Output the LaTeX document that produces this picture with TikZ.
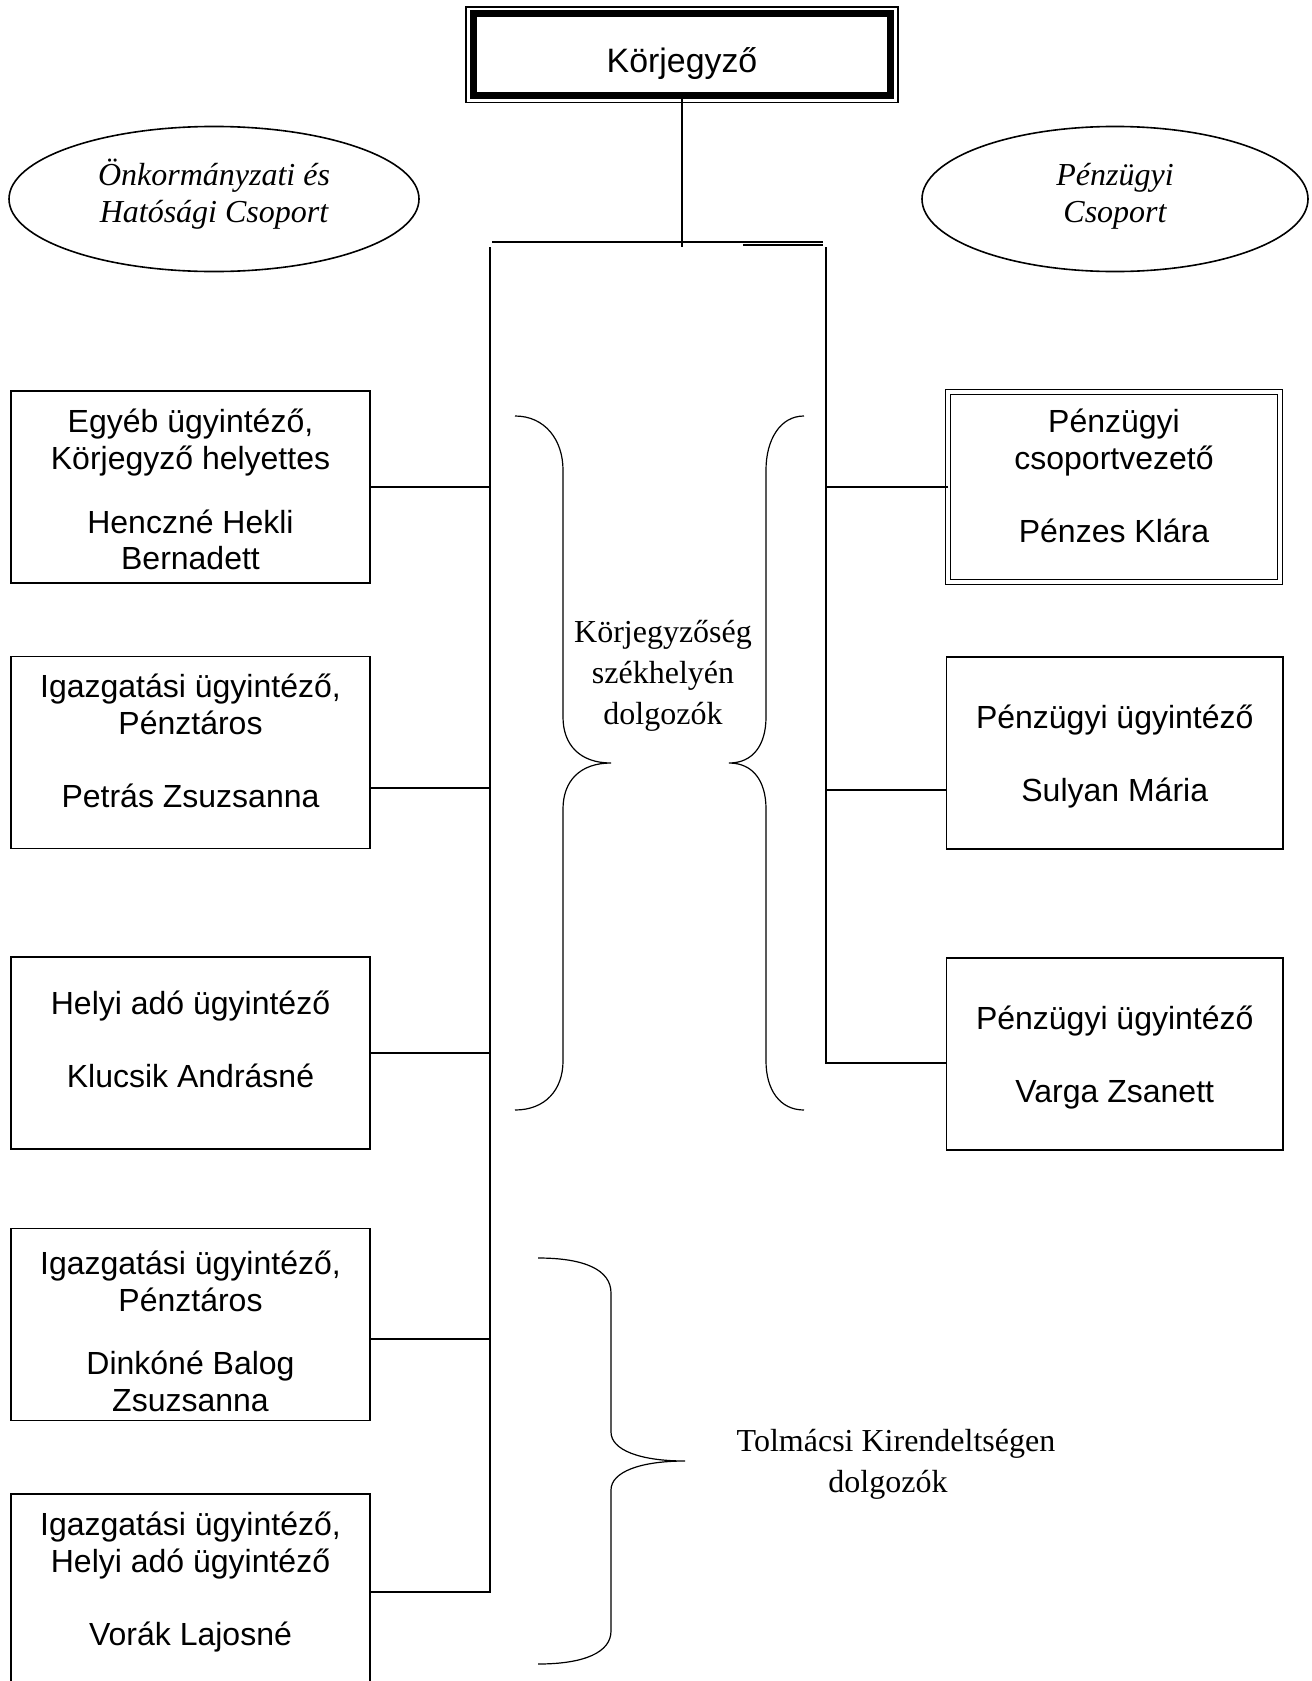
\documentclass[tikz,border=0pt]{standalone}
\usepackage{fontspec}
\setmainfont{Liberation Serif}
\newfontfamily\arialfont{Liberation Sans}
\usetikzlibrary{positioning,shapes.geometric}

\begin{document}
\begin{tikzpicture}[x=0.375pt,y=-0.375pt,
    unit/.style={rectangle,draw=black,line width=0.7pt,inner sep=0pt,outer sep=0pt,align=center,
      minimum height=72pt,text depth=0pt,font=\arialfont\fontsize{12}{13.8}\selectfont},
    leftunit/.style={unit,minimum width=134.6pt},
    rightunit/.style={unit,minimum width=126.2pt},
    group/.style={ellipse,draw=black,line width=0.6pt,inner sep=0pt,align=center,
      minimum height=54.4pt,text height=17.3pt,text depth=0pt,font=\itshape\fontsize{12}{13.9}\selectfont},
    note/.style={align=center,font=\fontsize{12}{15.3}\selectfont},
    line/.style={line width=0.6pt},
    brace/.style={line width=0.45pt}]

		\useasboundingbox (0,0) rectangle (1311,1681);

		% head of the office
		\node[rectangle,draw=black,line width=2.6pt,outer sep=0pt,minimum width=156.4pt,minimum height=30.9pt,
			text height=13pt,text depth=0pt,font=\arialfont\fontsize{12.7}{14.6}\selectfont] (kj) at (682,54.75) {Körjegyző};
		\draw[line width=0.55pt] ([shift={(-7.5,-6.5)}]kj.north west) rectangle ([shift={(7.5,6.5)}]kj.south east);

		% groups
		\node[group,minimum width=153.75pt] (onk) at (214,199) {Önkormányzati és\\Hatósági Csoport};
		\node[group,minimum width=144.75pt] (penz) at (1115,199) {Pénzügyi\\Csoport};

		% left column
		\node[leftunit,text height=62.2pt] (l1) at (190.5,487) {Egyéb ügyintéző,\\Körjegyző helyettes\\[10pt]Henczné Hekli\\Bernadett};
		\node[leftunit,text height=41.5pt] (l2) at (190.5,752.5) {Igazgatási ügyintéző,\\Pénztáros\\[13.6pt]Petrás Zsuzsanna};
		\node[leftunit,text height=25.6pt] (l3) at (190.5,1053) {Helyi adó ügyintéző\\[13.3pt]Klucsik Andrásné};
		\node[leftunit,text height=65.2pt] (l4) at (190.5,1324.5) {Igazgatási ügyintéző,\\Pénztáros\\[10pt]Dinkóné Balog\\Zsuzsanna};
		\node[leftunit,text height=41.8pt] (l5) at (190.5,1590) {Igazgatási ügyintéző,\\Helyi adó ügyintéző\\[13.6pt]Vorák Lajosné};

		% right column
		\node[rightunit,double,double distance=1.4pt,line width=0.5pt,minimum width=124.5pt,minimum height=71.25pt,
			text height=41.8pt] (r1) at (1114,487) {Pénzügyi\\csoportvezető\\[13.6pt]Pénzes Klára};
		\node[rightunit,text height=36.2pt] (r2) at (1114.75,753) {Pénzügyi ügyintéző\\[13.6pt]Sulyan Mária};
		\node[rightunit,text height=36.5pt] (r3) at (1114.75,1054) {Pénzügyi ügyintéző\\[13.6pt]Varga Zsanett};

		% trunk lines
		\coordinate (tl) at (490,247);
		\coordinate (tr) at (826,247);
		\coordinate (hl) at (492,242);
		\coordinate (hr) at (823,242);
		\coordinate (tlb) at (490,1592);
		\coordinate (trb) at (826,1063);

		\draw[line] (kj.south) -- (kj.south |- tl);
		\draw[line] (hl) -- (hr);
		\draw[line width=0.4pt] (hr) ++(-80,3) -- ++(80,0);
		\draw[line] (tl) -- (tlb) -- (tlb -| l5.east);
		\draw[line] (tr) -- (trb) -- (trb -| r3.west);

		% left units -> trunk
		\draw[line] (l1.east) -- (l1.east -| tl);
		\draw[line] ([yshift=-13.3pt]l2.east) -- +(120,0);
		\draw[line] (l3.east) -- (l3.east -| tl);
		\draw[line] ([yshift=-5.4pt]l4.east) -- +(120,0);

		% right units -> trunk
		\draw[line] (r1.west) -- (r1.west -| tr);
		\draw[line] ([yshift=-13.9pt]r2.west) -- +(-120.5,0);

		% braces
		\draw[brace] (515,416) .. controls (545,416) and (563,440) .. (563,470) -- (563,717)
			.. controls (563,745) and (580,763) .. (611,763) .. controls (580,763) and (563,781) .. (563,809)
			-- (563,1061) .. controls (563,1090) and (545,1110) .. (515,1110);
		\draw[brace] (804,416) .. controls (780,416) and (766,440) .. (766,470) -- (766,717)
			.. controls (766,745) and (753,763) .. (729,763) .. controls (753,763) and (766,781) .. (766,809)
			-- (766,1061) .. controls (766,1090) and (780,1110) .. (804,1110);
		\draw[brace] (538,1258) .. controls (585,1258) and (611,1270) .. (611,1293) -- (611,1432)
			.. controls (611,1450) and (640,1461) .. (685,1461) .. controls (640,1461) and (611,1472) .. (611,1490)
			-- (611,1631) .. controls (611,1652) and (585,1664) .. (538,1664);

		% brace labels
		\node[note] (szek) at (663,676) {Körjegyzőség\\székhelyén\\dolgozók};
		\node[note] (tolm) at (896,1464.5) {Tolmácsi Kirendeltségen\\dolgozók\hspace*{6pt}};
\end{tikzpicture}
\end{document}
